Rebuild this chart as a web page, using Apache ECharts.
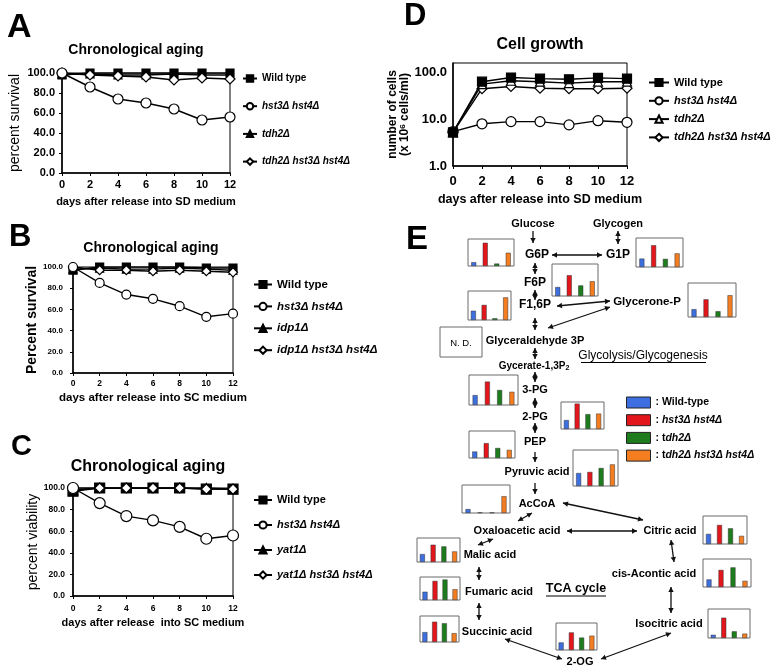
<!DOCTYPE html>
<html><head><meta charset="utf-8">
<script src="https://cdn.jsdelivr.net/npm/echarts@6/dist/echarts.min.js"></script>
<style>html,body{margin:0;padding:0;background:#fff}#c{width:776px;height:670px}</style>
</head><body><div id="c"></div>
<script>
// ---------------- DATA ----------------
const days = [0, 2, 4, 6, 8, 10, 12];

// Panel A: chronological aging, SD medium (percent survival)
const aLabels = ['Wild type', 'hst3Δ hst4Δ', 'tdh2Δ', 'tdh2Δ hst3Δ hst4Δ'];
const aWildType = [98, 100, 100, 100, 100, 100, 100];
const aHst3Hst4 = [100, 86, 74, 70, 64, 53, 56];
const aTdh2 = [99, 99, 98, 98, 99, 98, 98];
const aTdh2Hst3Hst4 = [100, 98, 97, 96, 93, 95, 94];

// Panel B: chronological aging, SC medium (percent survival)
const bLabels = ['Wild type', 'hst3Δ hst4Δ', 'idp1Δ', 'idp1Δ hst3Δ hst4Δ'];
const bWildType = [97, 100, 100, 100, 100, 99, 99];
const bHst3Hst4 = [100, 85, 74, 70, 63, 53, 56];
const bIdp1 = [98, 99, 98, 98, 99, 98, 97];
const bIdp1Hst3Hst4 = [100, 97, 97, 96, 97, 96, 95];

// Panel C: chronological aging, SC medium (percent viability)
const cLabels = ['Wild type', 'hst3Δ hst4Δ', 'yat1Δ', 'yat1Δ hst3Δ hst4Δ'];
const cWildType = [97, 100, 100, 100, 100, 99, 99];
const cHst3Hst4 = [100, 86, 74, 70, 64, 53, 56];
const cYat1 = [98, 100, 100, 100, 100, 100, 99];
const cYat1Hst3Hst4 = [100, 100, 100, 100, 100, 99, 99];

// Panel D: cell growth (x10^6 cells/ml)
const dLabels = ['Wild type', 'hst3Δ hst4Δ', 'tdh2Δ', 'tdh2Δ hst3Δ hst4Δ'];
const dWildType = [5.2, 62, 76, 72, 70, 75, 72];
const dHst3Hst4 = [5.4, 7.9, 8.8, 8.8, 7.5, 9.2, 8.5];
const dTdh2 = [5.2, 55, 65, 62, 58, 62, 62];
const dTdh2Hst3Hst4 = [5.2, 44, 49, 45, 44, 44, 45];

// Panel E: relative metabolite levels
const eGenotypes = ['Wild-type', 'hst3Δ hst4Δ', 'tdh2Δ', 'tdh2Δ hst3Δ hst4Δ'];
const metabolites = ['G6P', 'G1P', 'F6P', 'F1,6P', 'Glycerone-P', '3-PG', '2-PG', 'PEP', 'Pyruvic acid', 'AcCoA',
  'Citric acid', 'Malic acid', 'cis-Acontic acid', 'Fumaric acid', 'Succinic acid', 'Isocitric acid', '2-OG'];
const eWildType     = [14, 29, 28, 32, 23, 33, 33, 24, 36, 14, 36, 33, 27, 36, 38, 11, 28];
const eHst3Hst4     = [86, 75, 65, 52, 52, 78, 94, 55, 39, 2, 68, 72, 61, 83, 78, 70, 65];
const eTdh2         = [9, 28, 33, 6, 17, 50, 55, 37, 50, 2, 56, 65, 70, 89, 72, 23, 46];
const eTdh2Hst3Hst4 = [49, 47, 46, 78, 64, 44, 57, 30, 60, 60, 29, 44, 22, 47, 34, 15, 53];

// ---------------- LAYOUT / STYLE ----------------
const FONT = '"Liberation Sans", Arial, Helvetica, sans-serif';
const eColors = ['#3d6fe0', '#e3161c', '#1d7d1d', '#f47d20'];
// mini bar-chart boxes [left, top, width, height], same order as metabolites
const eBoxes = [
  [468, 239, 46, 27], [636, 238, 47, 29], [552, 264, 46, 32], [468, 291, 43, 29], [688, 283, 48, 34],
  [469, 375, 49, 30], [561, 402, 43, 27], [469, 431, 46, 27], [573, 450, 45, 36], [462, 485, 48, 28],
  [703, 516, 44, 28], [417, 538, 43, 24], [703, 559, 48, 28], [420, 577, 40, 23], [420, 616, 39, 26],
  [708, 609, 42, 29], [556, 623, 41, 27]
];

const panels = [
  { grid: {left: 62, top: 73, width: 168, height: 100}, yType: 'value',
    xLabel: 11, yLabel: 11, xMargin: 6, yMargin: 7,
    xName: 'days after release into SD medium', xNameSize: 11, xNameGap: 23,
    yName: 'percent survival', yNameSize: 14, yNameWeight: 'normal', yNameGap: 40,
    legend: {left: 242, top: 71.5, itemWidth: 14, itemHeight: 8, lineHeight: 14, itemGap: 13.7, fontSize: 10},
    labels: aLabels, data: [aWildType, aHst3Hst4, aTdh2, aTdh2Hst3Hst4], sizes: [8, 10, 8, 10], openTri: false },
  { grid: {left: 73, top: 267, width: 160, height: 106}, yType: 'value',
    xLabel: 8.5, yLabel: 8, xMargin: 6, yMargin: 10,
    xName: 'days after release into SC medium', xNameSize: 11.5, xNameGap: 19,
    yName: 'Percent survival', yNameSize: 14, yNameWeight: 'bold', yNameGap: 33,
    legend: {left: 253, top: 277.5, itemWidth: 18, itemHeight: 9, lineHeight: 14, itemGap: 7.9, fontSize: 11.5},
    labels: bLabels, data: [bWildType, bHst3Hst4, bIdp1, bIdp1Hst3Hst4], sizes: [8, 9, 8, 9], openTri: false },
  { grid: {left: 73, top: 488, width: 160, height: 108}, yType: 'value',
    xLabel: 8.5, yLabel: 8.5, xMargin: 8, yMargin: 8,
    xName: 'days after release  into SC medium', xNameSize: 11, xNameGap: 21,
    yName: 'percent viability', yNameSize: 14, yNameWeight: 'normal', yNameGap: 33,
    legend: {left: 253, top: 493, itemWidth: 18, itemHeight: 9, lineHeight: 14, itemGap: 11, fontSize: 11},
    labels: cLabels, data: [cWildType, cHst3Hst4, cYat1, cYat1Hst3Hst4], sizes: [10, 11, 9, 10], openTri: false },
  { grid: {left: 453, top: 63, width: 174, height: 103}, yType: 'log',
    xLabel: 13, yLabel: 13, xMargin: 9, yMargin: 6,
    xName: 'days after release into SD medium', xNameSize: 12.5, xNameGap: 27,
    yName: 'number of cells\n(x 10{s|6} cells/ml)', yNameSize: 12, yNameWeight: 'bold', yNameGap: 40,
    legend: {left: 648, top: 75.5, itemWidth: 20, itemHeight: 9, lineHeight: 14, itemGap: 4.3, fontSize: 11},
    labels: dLabels, data: [dWildType, dHst3Hst4, dTdh2, dTdh2Hst3Hst4], sizes: [9, 10, 9, 10], openTri: true }
];

function italRich(fs) {
  return { i: {fontFamily: FONT, fontSize: fs, fontWeight: 'bold', fontStyle: 'italic', color: '#000'},
           n: {fontFamily: FONT, fontSize: fs, fontWeight: 'bold', color: '#000'} };
}
function geneText(label) {
  return label === 'Wild type' ? '{n|' + label + '}' : '{i|' + label + '}';
}

const grids = [], xAxes = [], yAxes = [], series = [], legends = [];

panels.forEach((p, pi) => {
  grids.push(Object.assign({show: true, borderColor: '#000', borderWidth: 1, backgroundColor: '#fff', containLabel: false}, p.grid));
  const axLine = {show: true, onZero: false, lineStyle: {color: '#000', width: 1.5}};
  xAxes.push({
    gridIndex: pi, type: 'value', min: 0, max: 12, interval: 2,
    axisLine: axLine, axisTick: {show: true, length: 3, lineStyle: {color: '#000'}},
    splitLine: {show: false},
    axisLabel: {color: '#000', fontFamily: FONT, fontWeight: 'bold', fontSize: p.xLabel, margin: p.xMargin},
    name: p.xName, nameLocation: 'middle', nameGap: p.xNameGap,
    nameTextStyle: {color: '#000', fontFamily: FONT, fontWeight: 'bold', fontSize: p.xNameSize}
  });
  const y = {
    gridIndex: pi, type: p.yType,
    axisLine: axLine, axisTick: {show: p.yType !== 'log', length: 3, lineStyle: {color: '#000'}},
    splitLine: {show: false},
    axisLabel: {color: '#000', fontFamily: FONT, fontWeight: 'bold', fontSize: p.yLabel, margin: p.yMargin,
                formatter: v => Number(v).toFixed(1)},
    name: p.yName, nameLocation: 'middle', nameGap: p.yNameGap,
    nameTextStyle: {color: '#000', fontFamily: FONT, fontWeight: p.yNameWeight, fontSize: p.yNameSize,
                    rich: {s: {fontFamily: FONT, fontWeight: 'bold', fontSize: 8, verticalAlign: 'top', color: '#000'}}}
  };
  if (p.yType === 'log') {
    Object.assign(y, {logBase: 10, min: 1, max: 155});
    y.axisLabel.showMaxLabel = false;
  } else {
    Object.assign(y, {min: 0, max: 100, interval: 20});
  }
  yAxes.push(y);

  const symbols = ['rect', 'circle', 'triangle', 'diamond'];
  const fills = ['#000', '#fff', p.openTri ? '#fff' : '#000', '#fff'];
  const names = p.labels.map(l => 'ABCD'[pi] + '|' + l);
  const order = pi === 3 ? [1, 3, 2, 0] : [0, 2, 3, 1];
  order.forEach((k, zi) => {
    series.push({
      type: 'line', name: names[k], xAxisIndex: pi, yAxisIndex: pi,
      data: days.map((d, i) => [d, p.data[k][i]]),
      symbol: symbols[k], symbolSize: p.sizes[k], showSymbol: true, z: 3 + zi,
      lineStyle: {color: '#000', width: 1.4},
      itemStyle: {color: fills[k], borderColor: '#000', borderWidth: 1.2},
      animation: false, silent: true
    });
  });
  legends.push({
    orient: 'vertical', left: p.legend.left, top: p.legend.top, selectedMode: false,
    itemWidth: p.legend.itemWidth, itemHeight: p.legend.itemHeight, itemGap: p.legend.itemGap,
    padding: 0, data: names,
    formatter: n => geneText(n.split('|')[1]),
    textStyle: {color: '#000', fontFamily: FONT, fontWeight: 'bold', fontSize: p.legend.fontSize,
                lineHeight: p.legend.lineHeight, rich: italRich(p.legend.fontSize)}
  });
});

// Panel E mini bar charts
const eValues = [eWildType, eHst3Hst4, eTdh2, eTdh2Hst3Hst4];
metabolites.forEach((m, i) => {
  const gi = grids.length;
  const b = eBoxes[i];
  grids.push({left: b[0], top: b[1], width: b[2], height: b[3], show: true,
              borderColor: '#6b6b6b', borderWidth: 1, backgroundColor: '#fff', containLabel: false});
  xAxes.push({gridIndex: gi, type: 'category', data: eGenotypes, show: false});
  yAxes.push({gridIndex: gi, type: 'value', min: 0, max: 100, show: false, splitLine: {show: false}});
  eGenotypes.forEach((g, k) => {
    series.push({
      type: 'bar', name: g, xAxisIndex: gi, yAxisIndex: gi, barWidth: 5, barGap: '-100%',
      data: eGenotypes.map((_, j) => j === k ? eValues[k][i] : '-'),
      itemStyle: {color: eColors[k], borderColor: '#333', borderWidth: 0.5},
      animation: false, silent: true
    });
  });
});
legends.push({
  orient: 'vertical', left: 626, top: 396.5, selectedMode: false, padding: 0,
  itemWidth: 24, itemHeight: 11, itemGap: 5.7, icon: 'rect',
  itemStyle: {borderColor: '#222', borderWidth: 1},
  data: eGenotypes,
  formatter: n => {
    if (n === 'Wild-type') return '{n|: Wild-type}';
    if (n === 'hst3Δ hst4Δ') return '{n|: }{i|hst3Δ hst4Δ}';
    if (n === 'tdh2Δ') return '{n|: t}{i|dh2Δ}';
    return '{n|: t}{i|dh2Δ hst3Δ hst4Δ}';
  },
  textStyle: {color: '#000', fontFamily: FONT, fontWeight: 'bold', fontSize: 10.5, lineHeight: 11, rich: italRich(10.5)}
});

// ---------- graphic: letters, titles, pathway labels, arrows ----------
const graphics = [];
function txt(text, x, y, size, weight, align, extra) {
  graphics.push({type: 'text', x: x, y: y, silent: true,
    style: Object.assign({text: text, fill: '#000', font: (weight || 'bold') + ' ' + size + 'px ' + FONT,
      align: align || 'center', verticalAlign: 'middle'}, extra || {})});
}
txt('A', 7, 28, 34, 'bold', 'left');
txt('B', 9, 237, 31, 'bold', 'left');
txt('C', 11, 447, 29, 'bold', 'left');
txt('D', 404, 16, 31, 'bold', 'left');
txt('E', 406, 240, 33, 'bold', 'left');
txt('Chronological aging', 136, 50, 14);
txt('Chronological aging', 151, 248, 14);
txt('Chronological aging', 148, 467, 16);
txt('Cell growth', 540, 45, 16);

const eTextLayout = [
  ['Glucose', 533, 224, 11], ['Glycogen', 618, 224, 11], ['G6P', 537, 255, 12], ['G1P', 618, 255, 12],
  ['F6P', 535, 283, 12], ['F1,6P', 535, 305, 12], ['Glycerone-P', 647, 302, 11.5], ['Glyceraldehyde 3P', 535, 341, 11],
  ['3-PG', 535, 390, 11], ['2-PG', 535, 417, 11], ['PEP', 535, 442, 11], ['Pyruvic acid', 537, 472, 11],
  ['AcCoA', 537, 504, 11], ['Oxaloacetic acid', 517, 531, 11], ['Citric acid', 670, 531, 11], ['Malic acid', 490, 555, 11],
  ['cis-Acontic acid', 654, 574, 11], ['Fumaric acid', 499, 592, 11], ['Succinic acid', 497, 632, 11],
  ['Isocitric acid', 669, 624, 11], ['2-OG', 580, 662, 11]
];
eTextLayout.forEach(t => txt(t[0], t[1], t[2], t[3]));
txt('Gycerate-1,3P{s|2}', 534, 366, 10, 'bold', 'center',
  {rich: {s: {font: 'bold 7px ' + FONT, verticalAlign: 'bottom', padding: [5, 0, 0, 0]}}});
txt('Glycolysis/Glycogenesis', 643, 356, 12, 'normal');
graphics.push({type: 'line', silent: true, shape: {x1: 581, y1: 362.5, x2: 706, y2: 362.5}, style: {stroke: '#000', lineWidth: 1}});
txt('TCA cycle', 576, 589, 12.5);
graphics.push({type: 'line', silent: true, shape: {x1: 546, y1: 596, x2: 606, y2: 596}, style: {stroke: '#000', lineWidth: 1}});
// N.D. box
graphics.push({type: 'rect', silent: true, shape: {x: 440, y: 327, width: 42, height: 30}, style: {fill: '#fff', stroke: '#6b6b6b', lineWidth: 1}});
txt('N. D.', 461, 343, 9.5, 'normal');

function arrow(x1, y1, x2, y2, both) {
  graphics.push({type: 'line', silent: true, shape: {x1, y1, x2, y2}, style: {stroke: '#111', lineWidth: 1.3}});
  const head = (xa, ya, xb, yb) => {
    const a = Math.atan2(yb - ya, xb - xa), L = 5, W = 2.7;
    const bx = xb - L * Math.cos(a), by = yb - L * Math.sin(a);
    const px = -Math.sin(a) * W, py = Math.cos(a) * W;
    graphics.push({type: 'polygon', silent: true,
      shape: {points: [[xb, yb], [bx + px, by + py], [bx - px, by - py]]}, style: {fill: '#111'}});
  };
  head(x1, y1, x2, y2);
  if (both) head(x2, y2, x1, y1);
}
arrow(533, 231, 533, 243, false);
arrow(618, 231, 618, 244, true);
arrow(552, 255, 602, 255, true);
arrow(535, 263, 535, 274, true);
arrow(535, 290, 535, 300, true);
arrow(557, 306, 610, 301, true);
arrow(548, 328, 610, 307, true);
arrow(535, 318, 535, 330, true);
arrow(535, 348, 535, 359, true);
arrow(535, 372, 535, 382, true);
arrow(535, 398, 535, 408, true);
arrow(535, 423, 535, 433, true);
arrow(535, 452, 535, 462, false);
arrow(535, 483, 535, 494, false);
arrow(563, 503, 643, 520, true);
arrow(532, 513, 518, 521, true);
arrow(567, 531, 637, 531, true);
arrow(493, 539, 478, 545, true);
arrow(671, 540, 674, 562, true);
arrow(479, 567, 479, 580, true);
arrow(671, 587, 671, 613, true);
arrow(479, 603, 479, 620, true);
arrow(505, 639, 562, 659, true);
arrow(601, 659, 671, 633, true);

const chart = echarts.init(document.getElementById('c'), null, {renderer: 'canvas', width: 776, height: 670});
chart.setOption({
  backgroundColor: '#fff',
  animation: false,
  textStyle: {fontFamily: FONT},
  grid: grids, xAxis: xAxes, yAxis: yAxes, series: series, legend: legends,
  graphic: {elements: graphics}
});
</script>
</body></html>
